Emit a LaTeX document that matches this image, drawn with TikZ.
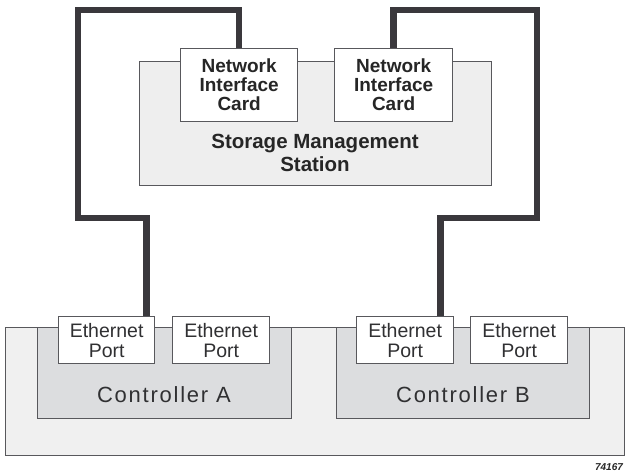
\documentclass[tikz,border=0pt]{standalone}
\usepackage{fontspec}
\setmainfont{Liberation Sans}
\usepackage{xcolor}
\usetikzlibrary{positioning,backgrounds,calc}
\definecolor{edgegrey}{RGB}{88,88,92}
\definecolor{cablegrey}{RGB}{58,56,60}
\definecolor{shelffill}{RGB}{240,240,240}
\definecolor{ctrlfill}{RGB}{220,221,223}
\definecolor{stationfill}{RGB}{238,238,238}
\definecolor{labelgrey}{RGB}{48,48,50}
\tikzset{
  box/.style={draw=edgegrey,line width=1.3pt,inner sep=0pt,anchor=north west},
  shelf/.style={box,fill=shelffill},
  ctrl/.style={box,fill=ctrlfill},
  station/.style={box,fill=stationfill},
  card/.style={box,fill=white,align=center,text=black!85,
               font=\fontsize{19}{19}\selectfont\bfseries},
  port/.style={box,fill=white,align=center,text=labelgrey,
               font=\fontsize{19.5}{20}\selectfont},
  cable/.style={draw=cablegrey,line width=6.5pt},
  caption/.style={align=center,text=black!85,
                  font=\fontsize{20.5}{23}\selectfont\bfseries},
  ctrltext/.style={text=labelgrey,
                   font=\fontsize{22}{24}\selectfont\addfontfeature{LetterSpace=8}},
}
\begin{document}
\begin{tikzpicture}[x=1pt,y=-1pt]
  \useasboundingbox (0,0) rectangle (626,476);
  % enclosure with the two controllers
  \node[shelf,minimum width=619,minimum height=128] (shelf) at (5,327) {};
  \node[ctrl,minimum width=254,minimum height=91] (ctrlA) at (37,327) {};
  \node[ctrl,minimum width=253,minimum height=91] (ctrlB) at (336,327) {};
  \node[ctrltext] (ctrlAtxt) at (164,395) {Controller A};
  \node[ctrltext] (ctrlBtxt) at (463,395) {Controller B};
  \node[port,minimum width=96,minimum height=47] (pa1) at (58,316) {Ethernet\\Port};
  \node[port,minimum width=97,minimum height=47] (pa2) at (172,316) {Ethernet\\Port};
  \node[port,minimum width=97,minimum height=47] (pb1) at (356,316) {Ethernet\\Port};
  \node[port,minimum width=97,minimum height=47] (pb2) at (470,316) {Ethernet\\Port};
  % management station
  \node[station,minimum width=352,minimum height=124] (station) at (139,61) {};
  \node[caption] (stationtxt) at (315,153) {Storage Management\\Station};
  \node[card,minimum width=117,minimum height=73] (nic1) at (180,48) {Network\\Interface\\Card};
  \node[card,minimum width=118,minimum height=73] (nic2) at (334,48) {Network\\Interface\\Card};
  % cables
  \coordinate (ltop) at (78,10);
  \coordinate (lbend) at (78,218);
  \coordinate (rtop) at (537,10);
  \coordinate (rbend) at (537,218);
  \begin{scope}[on background layer]
    \draw[cable] (nic1.north) |- (ltop) -- (lbend) -| ($(pa1.north east)+(-9,0)$);
    \draw[cable] (nic2.north) |- (rtop) -- (rbend) -| ($(pb1.north east)+(-14,0)$);
  \end{scope}
  \node[font=\fontsize{10}{10}\selectfont\bfseries\itshape,text=black!85] (figno) at (609,467) {74167};
\end{tikzpicture}
\end{document}
